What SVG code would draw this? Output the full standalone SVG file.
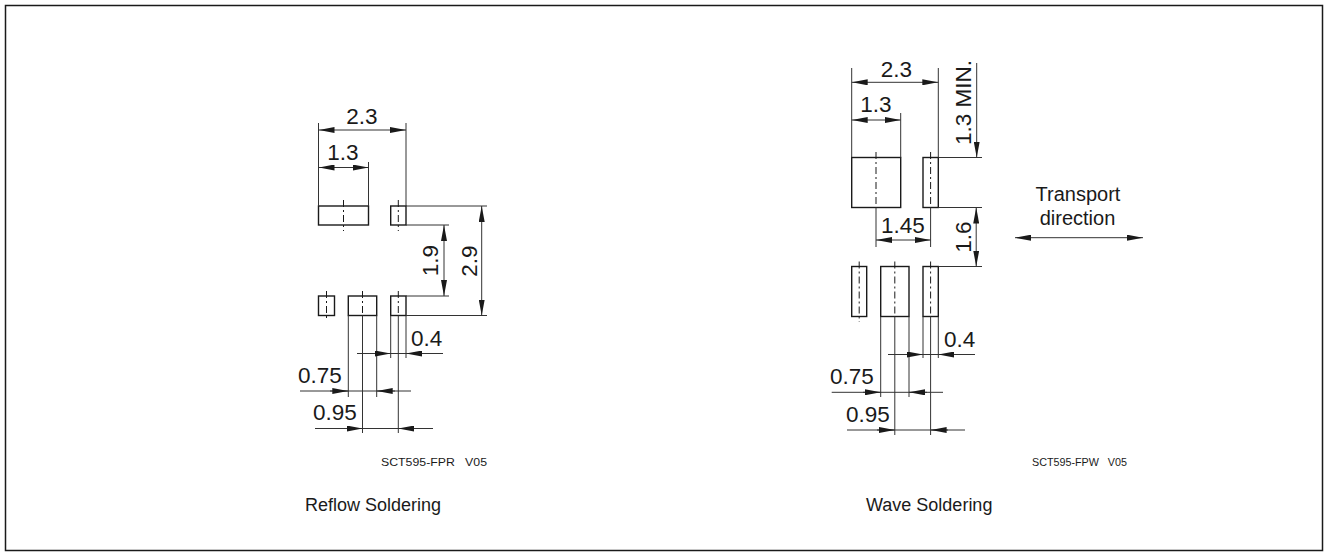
<svg xmlns="http://www.w3.org/2000/svg" width="1329" height="557" viewBox="0 0 1329 557">
<style>
.pad{fill:none;stroke:#1a1a1a;stroke-width:1.4}
.cl{fill:none;stroke:#1a1a1a;stroke-width:1;stroke-dasharray:7 3 2 3}
.ln{fill:none;stroke:#333;stroke-width:1}
.ar{fill:none;stroke:#333;stroke-width:1;marker-end:url(#ah)}
.dim{fill:none;stroke:#333;stroke-width:1;marker-start:url(#ah);marker-end:url(#ah)}
text{font-family:"Liberation Sans",Arial,Helvetica,sans-serif;fill:#1a1a1a}
.t{font-size:22.5px}
.s{font-size:11px;white-space:pre}
.c{font-size:18px}
.tr{font-size:20px}
</style>
<defs>
<marker id="ah" viewBox="0 0 16 6" refX="16" refY="3" markerWidth="16" markerHeight="6" markerUnits="userSpaceOnUse" orient="auto-start-reverse">
<path d="M0,0 L16,3 L0,6 Z" fill="#1a1a1a"/>
</marker>
</defs>
<rect x="5.5" y="5.5" width="1317" height="545" fill="none" stroke="#1a1a1a" stroke-width="1.5"/>

<g id="reflow">
<g id="reflow-pads">
<rect class="pad" x="318.5" y="206" width="50" height="19"/>
<rect class="pad" x="390.7" y="206" width="15.3" height="19"/>
<rect class="pad" x="318.5" y="296" width="16" height="19.5"/>
<rect class="pad" x="348.3" y="296" width="28.4" height="19.5"/>
<rect class="pad" x="390.7" y="296" width="15.3" height="19.5"/>
<path class="cl" d="M343.5,200 V231 M398.3,200 V231 M326.5,291 V321 M362.5,291 V316 M398.3,291 V316"/>
</g>
<g id="reflow-connectors">
<path class="ln" d="M318.5,123 V206 M406,123 V206 M368.5,162 V206 M406,206 H487 M406,225 H449 M406,296 H449 M406,315.5 H487 M348.3,315.5 V397 M376.7,315.5 V397 M390.7,315.5 V358 M406,315.5 V358 M362.5,315.5 V433 M398.3,315.5 V433"/>
<path class="dim" d="M318.5,130 H406"/>
<path class="dim" d="M318.5,167.5 H368.5"/>
<path class="dim" d="M444,225 V296"/>
<path class="dim" d="M481.7,206 V315.5"/>
<path class="ln" d="M357,353.5 H443 M300,391 H411 M315,428.5 H433"/>
<path class="ar" d="M372,353.5 H390.7"/>
<path class="ar" d="M425,353.5 H406"/>
<path class="ar" d="M330,391 H348.3"/>
<path class="ar" d="M395,391 H376.7"/>
<path class="ar" d="M344,428.5 H362.5"/>
<path class="ar" d="M417,428.5 H398.3"/>
</g>
<g id="reflow-labels">
<text class="t" x="362" y="124" text-anchor="middle">2.3</text>
<text class="t" x="343" y="160" text-anchor="middle">1.3</text>
<text class="t" transform="translate(438,260.5) rotate(-90)" text-anchor="middle">1.9</text>
<text class="t" transform="translate(476.5,261) rotate(-90)" text-anchor="middle">2.9</text>
<text class="t" x="411" y="346">0.4</text>
<text class="t" x="298" y="383">0.75</text>
<text class="t" x="313" y="420">0.95</text>
<text class="s" x="381" y="466" textLength="106" lengthAdjust="spacingAndGlyphs" xml:space="preserve">SCT595-FPR   V05</text>
<text class="c" x="305" y="511">Reflow Soldering</text>
</g>
</g>

<g id="wave">
<g id="wave-pads">
<rect class="pad" x="851.7" y="157.5" width="49" height="50"/>
<rect class="pad" x="923" y="157.5" width="15.3" height="50"/>
<rect class="pad" x="851.7" y="266.5" width="15" height="50"/>
<rect class="pad" x="880.7" y="266.5" width="28.3" height="50"/>
<rect class="pad" x="923" y="266.5" width="15.3" height="50"/>
<path class="cl" d="M876,152 V207.5 M930.6,152 V207.5 M859.2,261.5 V322 M894.8,261.5 V316.5 M930.6,261.5 V316.5"/>
</g>
<g id="wave-connectors">
<path class="ln" d="M851.7,68 V157.5 M938.3,68 V157.5 M900.7,113 V157.5 M938.3,157.5 H982 M938.3,207.5 H982 M938.3,266.5 H982 M876,207.5 V247 M930.6,207.5 V247 M880.7,316.5 V397 M909,316.5 V397 M923,316.5 V358 M938.3,316.5 V358 M894.8,316.5 V435 M930.6,316.5 V435"/>
<path class="dim" d="M851.7,82.3 H938.3"/>
<path class="dim" d="M851.7,120 H900.7"/>
<path class="ar" d="M976.7,63 V157.5"/>
<path class="dim" d="M976.2,207.5 V266.5"/>
<path class="dim" d="M876,240 H930.6"/>
<path class="ln" d="M888,354.5 H975 M831.7,392.3 H943 M847,430 H965"/>
<path class="ar" d="M905,354.5 H923"/>
<path class="ar" d="M956,354.5 H938.3"/>
<path class="ar" d="M863,392.3 H880.7"/>
<path class="ar" d="M927,392.3 H909"/>
<path class="ar" d="M877,430 H894.8"/>
<path class="ar" d="M948,430 H930.6"/>
<path class="dim" d="M1015,237.7 H1143"/>
</g>
<g id="wave-labels">
<text class="t" x="896.5" y="77" text-anchor="middle">2.3</text>
<text class="t" x="876" y="112" text-anchor="middle">1.3</text>
<text class="t" transform="translate(971,102.5) rotate(-90)" text-anchor="middle">1.3 MIN.</text>
<text class="t" transform="translate(971,237) rotate(-90)" text-anchor="middle">1.6</text>
<text class="t" x="903" y="233" text-anchor="middle">1.45</text>
<text class="t" x="944" y="347">0.4</text>
<text class="t" x="830" y="384">0.75</text>
<text class="t" x="846" y="421.5">0.95</text>
<text class="tr" x="1078" y="200.5" text-anchor="middle">Transport</text>
<text class="tr" x="1077.5" y="225" text-anchor="middle">direction</text>
<text class="s" x="1032" y="466" textLength="95" lengthAdjust="spacingAndGlyphs" xml:space="preserve">SCT595-FPW   V05</text>
<text class="c" x="866" y="511">Wave Soldering</text>
</g>
</g>
</svg>
